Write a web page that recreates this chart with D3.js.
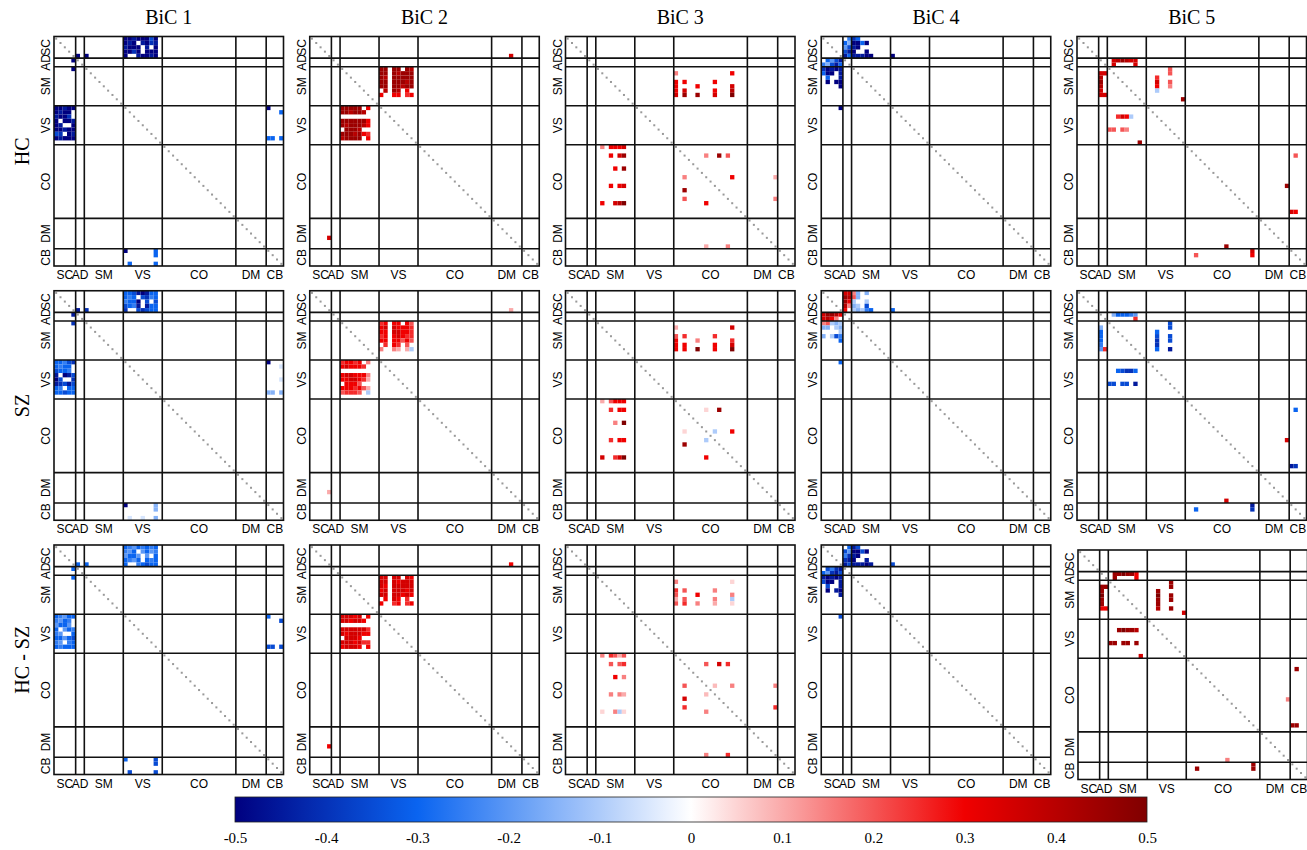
<!DOCTYPE html>
<html>
<head>
<meta charset="utf-8">
<script src="https://cdn.jsdelivr.net/npm/d3@7"></script>
<style>
  body { margin: 0; background: #fff; }
  svg { display: block; }
</style>
</head>
<body>
<div id="chart"></div>
<script>
const WIDTH = 1307;
const HEIGHT = 850;

const domainNames = ["SC", "AD", "SM", "VS", "CO", "DM", "CB"];
const domainSizes = [5, 2, 9, 9, 17, 7, 4];
const bicNames = ["BiC 1", "BiC 2", "BiC 3", "BiC 4", "BiC 5"];
const groupNames = ["HC", "SZ", "HC - SZ"];
const colorTicks = [-0.5, -0.4, -0.3, -0.2, -0.1, 0, 0.1, 0.2, 0.3, 0.4, 0.5];
const colorStops = [-0.5, -0.3, 0, 0.3, 0.5];
const colorValues = ["#000080", "#0a64f0", "#ffffff", "#f00000", "#800000"];

// entries are [row, col, value] or [firstRow, firstCol, [[values]]]
// every entry is mirrored across the diagonal
const bic1HC = [
  [16, 0, [[-.5, -.5, -.45, -.5, -.5],
           [-.5, -.45, -.5, -.5, 0],
           [-.45, -.5, -.5, -.4, 0],
           [-.5, 0, -.5, -.5, -.45],
           [-.5, -.45, 0, 0, -.5],
           [-.5, -.5, -.45, -.5, -.5],
           [-.35, -.4, 0, -.5, -.45],
           [-.5, -.45, -.5, -.5, -.5]]],
  [4, 5, -.5], [4, 7, -.5],
  [16, 49, -.5], [17, 52, -.3], [23, 49, -.3], [23, 50, -.3], [23, 52, -.3]
];
const bic1SZ = [
  [16, 0, [[-.3, -.3, -.25, -.35, -.4],
           [-.3, -.25, -.3, -.3, 0],
           [-.35, -.3, -.3, -.25, 0],
           [-.45, 0, -.5, -.45, -.35],
           [-.5, -.35, 0, 0, -.4],
           [-.45, -.4, -.35, -.45, -.35],
           [-.3, -.25, 0, -.3, -.3],
           [-.3, -.3, -.35, -.3, -.3]]],
  [4, 5, -.45], [4, 7, -.4],
  [16, 49, -.5], [17, 52, -.05], [20, 52, -.05], [23, 49, -.15], [23, 50, -.15], [23, 52, -.15]
];
const bic1Diff = [
  [16, 0, [[-.3, -.25, -.2, -.3, -.3],
           [-.25, -.2, -.3, -.25, 0],
           [-.2, -.3, -.3, -.2, 0],
           [-.3, 0, -.2, -.3, -.25],
           [-.25, -.2, 0, 0, -.3],
           [-.3, -.3, -.2, -.3, -.35],
           [-.25, -.2, 0, -.25, -.3],
           [-.3, -.25, -.3, -.3, -.3]]],
  [4, 5, -.3], [4, 7, -.3],
  [16, 49, -.3], [17, 52, -.35], [23, 49, -.35], [23, 50, -.35], [23, 52, -.35]
];

const bic2HC = [
  [16, 7, [[.45, .45, .45, .45, .45, 0, .3],
           [.45, .45, .4, .45, .45, .4, 0],
           [0, 0, 0, 0, 0, 0, 0],
           [.45, .45, .45, .45, .45, .45, .3],
           [.45, .4, .45, .45, .45, .4, .3],
           [0, .45, .45, .45, .4, 0, 0],
           [.45, .45, .45, .4, .45, .3, .25],
           [.4, .45, .45, .45, .45, 0, .3]]],
  [4, 46, .35]
];
const bic2SZ = [
  [16, 7, [[.25, .3, .3, .25, .3, 0, .15],
           [.3, .35, .3, .3, .3, .25, 0],
           [0, 0, 0, 0, 0, 0, 0],
           [.3, .35, .35, .3, .3, .3, .15],
           [.3, .3, .35, .35, .3, .25, .1],
           [0, .3, .3, .3, .2, 0, 0],
           [.3, .3, .3, .25, .3, .2, .1],
           [.2, .25, .25, .25, .2, 0, -.1]]],
  [4, 46, .1]
];
const bic2Diff = [
  [16, 7, [[.35, .35, .35, .3, .35, 0, .3],
           [.35, .35, .3, .35, .35, .3, 0],
           [0, 0, 0, 0, 0, 0, 0],
           [.35, .35, .35, .35, .35, .35, .25],
           [.35, .3, .35, .35, .35, .3, .3],
           [0, .35, .35, .35, .3, 0, 0],
           [.35, .35, .35, .3, .35, .25, .25],
           [.3, .35, .35, .35, .3, 0, .3]]],
  [4, 46, .3]
];

const bic3HC = [
  [8, 25, .15], [10, 25, .3], [11, 25, .3], [12, 25, .3], [13, 25, .35],
  [10, 27, .3], [12, 27, .35], [13, 27, .45],
  [11, 30, .3], [13, 30, .45],
  [10, 34, .3], [12, 34, .3], [13, 34, .35],
  [8, 38, .3], [11, 38, .35], [12, 38, .4], [13, 38, .5],
  [27, 32, .15], [27, 35, .45], [27, 37, .2], [32, 38, .3], [32, 48, .1], [37, 48, .15]
];
const bic3SZ = [
  [8, 25, .1], [10, 25, .2], [11, 25, .3], [12, 25, .3], [13, 25, .3],
  [10, 27, .25], [12, 27, .3], [13, 27, .3],
  [11, 30, .15], [13, 30, .5],
  [10, 34, .25], [12, 34, .3], [13, 34, .3],
  [8, 38, .35], [11, 38, .25], [12, 38, .35], [13, 38, .5],
  [27, 32, .05], [27, 35, .45], [32, 34, -.1], [32, 38, .3]
];
const bic3Diff = [
  [8, 25, .15], [10, 25, .25], [11, 25, .2], [12, 25, .1], [13, 25, .2],
  [10, 27, .2], [12, 27, .2], [13, 27, .25],
  [11, 30, .3], [13, 30, .15],
  [10, 34, .15], [12, 34, .15], [13, 34, .1],
  [8, 38, .05], [11, 38, .15], [12, 38, -.1], [13, 38, .05],
  [27, 32, .2], [27, 35, .35], [27, 37, .25], [32, 34, .08], [32, 38, .15],
  [32, 48, .15], [37, 48, .25]
];

const bic4HC = [
  [5, 0, [[0, -.3, -.2, -.35, -.45],
          [-.25, -.15, -.35, -.45, -.3],
          [-.4, -.5, -.45, -.5, -.45],
          [-.3, -.5, -.5, 0, -.45],
          [0, -.3, 0, 0, -.45],
          [0, -.5, 0, -.5, -.5],
          [0, 0, 0, 0, -.5]]],
  [4, 16, -.5]
];
const bic4SZ = [
  [5, 0, [[.35, .45, .45, .4, .3],
          [.35, .4, .3, .15, 0],
          [.15, .2, -.1, -.15, -.1],
          [-.15, -.15, 0, -.1, -.15],
          [0, 0, 0, 0, -.1],
          [-.15, 0, -.1, -.35, -.25],
          [0, 0, 0, 0, -.3]]],
  [4, 16, -.3]
];
const bic4Diff = [
  [5, 0, [[0, -.35, -.25, -.4, -.45],
          [-.3, -.2, -.4, -.45, -.35],
          [-.45, -.5, -.45, -.5, -.45],
          [-.35, -.5, -.5, 0, -.45],
          [0, -.35, 0, 0, -.45],
          [0, -.5, 0, -.45, -.5],
          [0, 0, 0, 0, -.45]]],
  [4, 16, -.35]
];

const bic5HC = [
  [5, 8, .35], [5, 9, .4], [5, 10, .45], [5, 11, .4], [5, 12, .35], [5, 13, .35],
  [6, 8, .35], [6, 13, .35],
  [9, 18, .25], [10, 18, .35], [11, 18, .3], [12, 18, -.1],
  [7, 21, .2], [8, 21, .2], [10, 21, .2], [11, 21, .15],
  [14, 24, .45],
  [27, 50, .2], [34, 48, .45], [40, 49, .35], [40, 50, .3]
];
const bic5SZ = [
  [5, 8, -.15], [5, 9, -.3], [5, 10, -.3], [5, 11, -.3], [5, 12, -.25], [5, 13, -.2],
  [6, 13, .25],
  [9, 18, -.3], [10, 18, -.35], [11, 18, -.4], [12, 18, -.4], [13, 18, -.3],
  [7, 21, -.35], [8, 21, -.35], [10, 21, -.35], [11, 21, -.35], [13, 21, -.45],
  [27, 50, -.3], [34, 48, .35], [40, 49, -.45], [40, 50, -.4]
];
const bic5Diff = [
  [5, 8, .45], [5, 9, .45], [5, 10, .5], [5, 11, .45], [5, 12, .45], [5, 13, .3],
  [6, 8, .45], [6, 13, .3],
  [9, 18, .45], [10, 18, .5], [11, 18, .45], [12, 18, .45], [13, 18, .4],
  [7, 21, .45], [8, 21, .45], [10, 21, .45], [11, 21, .45], [13, 21, .45],
  [14, 24, .35],
  [27, 50, .45], [34, 48, .15], [40, 49, .45], [40, 50, .45]
];

// panels[col][row]
const panels = [
  [bic1HC, bic1SZ, bic1Diff],
  [bic2HC, bic2SZ, bic2Diff],
  [bic3HC, bic3SZ, bic3Diff],
  [bic4HC, bic4SZ, bic4Diff],
  [bic5HC, bic5SZ, bic5Diff]
];

const N = d3.sum(domainSizes);
const bounds = d3.cumsum(domainSizes);
const starts = [0, ...bounds.slice(0, -1)];

function expand(entries) {
  const cells = [];
  entries.forEach(([r, c, v]) => {
    const block = Array.isArray(v) ? v : [[v]];
    block.forEach((row, i) => row.forEach((val, j) => {
      if (val === 0) return;
      cells.push({ r: r + i, c: c + j, v: val });
      cells.push({ r: c + j, c: r + i, v: val });
    }));
  });
  return cells;
}

const color = d3.scaleLinear().domain(colorStops).range(colorValues)
  .interpolate(d3.interpolateRgb).clamp(true);

const svg = d3.select("#chart").append("svg")
  .attr("width", WIDTH)
  .attr("height", HEIGHT);

const SIZE = 229.5;
const colX = d3.scaleLinear().domain([0, 4]).range([54, 1077]);
const rowY = d3.scaleLinear().domain([0, 2]).range([36.5, 545]);

const band = d3.scaleBand().domain(d3.range(N)).range([0, SIZE]);
const pos = d3.scaleLinear().domain([0, N]).range([0, SIZE]);

panels.forEach((col, ci) => {
  col.forEach((entries, ri) => {
    let x0 = colX(ci), y0 = rowY(ri);
    if (ci === 4 && ri === 2) { x0 += 1; y0 += 5; }
    const g = svg.append("g").attr("transform", `translate(${x0},${y0})`);

    g.selectAll("rect.cell")
      .data(expand(entries))
      .join("rect")
        .attr("class", "cell")
        .attr("x", d => band(d.c))
        .attr("y", d => band(d.r))
        .attr("width", band.bandwidth())
        .attr("height", band.bandwidth())
        .attr("fill", d => color(d.v));

    // diagonal
    g.selectAll("rect.diag")
      .data(d3.range(N))
      .join("rect")
        .attr("class", "diag")
        .attr("x", d => band(d) + band.bandwidth() / 2 - 1)
        .attr("y", d => band(d) + band.bandwidth() / 2 - 1)
        .attr("width", 2)
        .attr("height", 2)
        .attr("fill", "#999");

    // domain boundaries
    const inner = bounds.slice(0, -1);
    g.selectAll("line.v")
      .data(inner)
      .join("line")
        .attr("x1", d => pos(d)).attr("x2", d => pos(d))
        .attr("y1", 0).attr("y2", SIZE)
        .attr("stroke", "#111").attr("stroke-width", 1.6);
    g.selectAll("line.h")
      .data(inner)
      .join("line")
        .attr("y1", d => pos(d)).attr("y2", d => pos(d))
        .attr("x1", 0).attr("x2", SIZE)
        .attr("stroke", "#111").attr("stroke-width", 1.6);
    g.append("rect")
      .attr("width", SIZE).attr("height", SIZE)
      .attr("fill", "none").attr("stroke", "#111").attr("stroke-width", 1.6);

    // domain labels
    g.selectAll("text.xl")
      .data(domainNames)
      .join("text")
        .attr("x", (d, i) => pos(starts[i] + domainSizes[i] / 2))
        .attr("y", SIZE + 13)
        .attr("text-anchor", "middle")
        .attr("font-family", "Liberation Sans, Arial, sans-serif")
        .attr("font-size", 12)
        .text(d => d);
    g.selectAll("text.yl")
      .data(domainNames)
      .join("text")
        .attr("transform", (d, i) => `translate(-4,${pos(starts[i] + domainSizes[i] / 2)}) rotate(-90)`)
        .attr("text-anchor", "middle")
        .attr("font-family", "Liberation Sans, Arial, sans-serif")
        .attr("font-size", 12)
        .text(d => d);
  });
});

// column titles
svg.selectAll("text.title")
  .data(bicNames)
  .join("text")
    .attr("x", (d, i) => colX(i) + SIZE / 2)
    .attr("y", 24)
    .attr("text-anchor", "middle")
    .attr("font-family", "Liberation Serif, Times New Roman, serif")
    .attr("font-size", 20)
    .text(d => d);

// row titles
svg.selectAll("text.group")
  .data(groupNames)
  .join("text")
    .attr("transform", (d, i) => `translate(29,${rowY(i) + SIZE / 2}) rotate(-90)`)
    .attr("text-anchor", "middle")
    .attr("font-family", "Liberation Serif, Times New Roman, serif")
    .attr("font-size", 20)
    .text(d => d);

// colorbar
const cbX = d3.scaleLinear().domain([-0.5, 0.5]).range([235, 1147]);
const cbY = 797, cbH = 25;
const grad = svg.append("defs").append("linearGradient")
  .attr("id", "cbar").attr("x1", "0%").attr("x2", "100%");
grad.selectAll("stop")
  .data(d3.range(-0.5, 0.5001, 0.025))
  .join("stop")
    .attr("offset", d => `${(d + 0.5) * 100}%`)
    .attr("stop-color", d => color(d));
svg.append("rect")
  .attr("x", cbX(-0.5)).attr("y", cbY)
  .attr("width", cbX(0.5) - cbX(-0.5)).attr("height", cbH)
  .attr("fill", "url(#cbar)")
  .attr("stroke", "#222").attr("stroke-width", 0.8);

const cbAxis = d3.axisBottom(cbX).tickValues(colorTicks).tickSize(0)
  .tickFormat(d => String(+d.toFixed(1)));
const axG = svg.append("g").attr("transform", `translate(0,${cbY + cbH})`).call(cbAxis);
axG.select(".domain").remove();
axG.selectAll("text")
  .attr("dy", "1.2em")
  .attr("font-family", "Liberation Serif, Times New Roman, serif")
  .attr("font-size", 15)
  .attr("fill", "#000");
</script>
</body>
</html>
